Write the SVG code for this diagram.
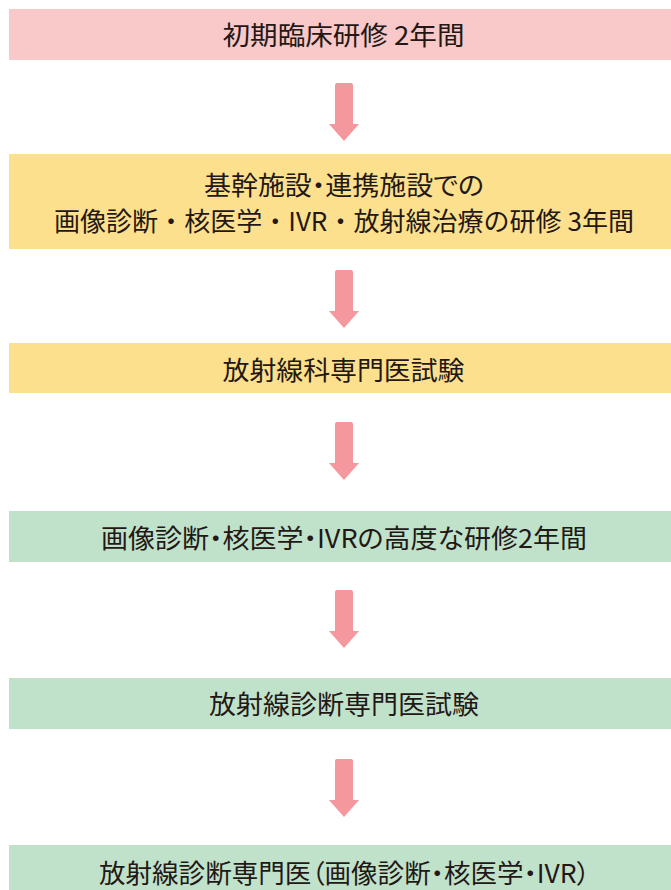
<svg xmlns="http://www.w3.org/2000/svg" width="671" height="890" viewBox="0 0 671 890">
<defs>
<style>
.pink{fill:#f9c8c8}
.yellow{fill:#fde08e}
.green{fill:#c0e2cb}
.t{font-family:"Noto Sans CJK JP","Noto Sans",sans-serif;font-size:26px;fill:#231815;text-anchor:middle}
.p{font-feature-settings:"palt"}
.arrow{fill:#f5989d}
</style>
<path id="arr" d="M-9,0 Q-9,-2 -7,-2 L7,-2 Q9,-2 9,0 L9,39 L15,39 L0,56 L-15,39 L-9,39 Z"/>
</defs>
<rect width="671" height="890" fill="#ffffff"/>
<g id="n1">
<rect class="pink" x="9" y="9" width="662" height="51"/>
<text class="t" x="343.5" y="44.5" textLength="242" lengthAdjust="spacingAndGlyphs">初期臨床研修 2年間</text>
</g>
<g id="n2">
<rect class="yellow" x="9" y="154" width="662" height="95"/>
<text class="t p" x="344" y="195" textLength="280" lengthAdjust="spacingAndGlyphs">基幹施設・連携施設での</text>
<text class="t" x="344" y="231" textLength="580" lengthAdjust="spacingAndGlyphs">画像診断・核医学・IVR・放射線治療の研修 3年間</text>
</g>
<g id="n3">
<rect class="yellow" x="9" y="343" width="662" height="50"/>
<text class="t" x="343.5" y="380" textLength="242" lengthAdjust="spacingAndGlyphs">放射線科専門医試験</text>
</g>
<g id="n4">
<rect class="green" x="9" y="511" width="662" height="51"/>
<text class="t p" x="344" y="548" textLength="486" lengthAdjust="spacingAndGlyphs">画像診断・核医学・IVRの高度な研修2年間</text>
</g>
<g id="n5">
<rect class="green" x="9" y="678" width="662" height="51"/>
<text class="t" x="344" y="714" textLength="270" lengthAdjust="spacingAndGlyphs">放射線診断専門医試験</text>
</g>
<g id="n6">
<rect class="green" x="9" y="845" width="662" height="45"/>
<text class="t p" x="344.5" y="883" textLength="491" lengthAdjust="spacingAndGlyphs">放射線診断専門医（画像診断・核医学・IVR）</text>
</g>
<g id="connectors" class="arrow">
<use href="#arr" x="344" y="85"/>
<use href="#arr" x="344" y="272"/>
<use href="#arr" x="344" y="424"/>
<use href="#arr" x="344" y="592"/>
<use href="#arr" x="344" y="761"/>
</g>
</svg>
